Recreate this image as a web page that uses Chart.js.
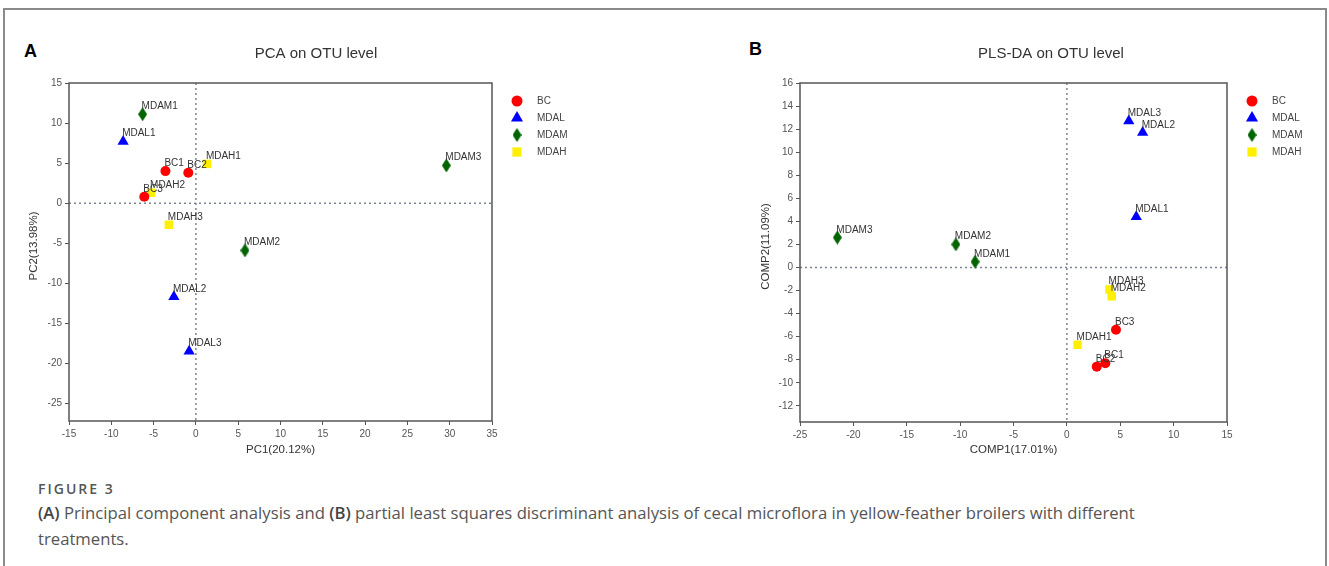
<!DOCTYPE html>
<html>
<head>
<meta charset="utf-8">
<script src="https://cdn.jsdelivr.net/npm/chart.js@4.4.0/dist/chart.umd.min.js"></script>
<style>
    html, body { margin: 0; padding: 0; background: #fff; }
    body { width: 1329px; height: 566px; position: relative; overflow: hidden; font-family: Arial, "Liberation Sans", sans-serif; }
    .frame { position: absolute; left: 3px; top: 8px; width: 1324px; height: 620px; border: 2px solid #8a8a8a; border-bottom: none; box-sizing: border-box; }
    .letter { position: absolute; font: bold 18px Arial, "Liberation Sans", sans-serif; line-height: 18px; color: #000; }
    #wrapA { position: absolute; left: 0; top: 0; width: 600px; height: 470px; }
    #wrapB { position: absolute; left: 700px; top: 0; width: 629px; height: 470px; }
    .fig { position: absolute; left: 38px; top: 480px; font: 600 14px "Open Sans", sans-serif; line-height: 18px; color: #555; letter-spacing: 2px; }
    .caption { position: absolute; left: 38px; top: 500px; font: 16.7px "Open Sans", sans-serif; line-height: 26px; color: #555; white-space: nowrap; }
    .caption b { font-weight: 600; color: #444; }
</style>
</head>
<body>
<div class="frame"></div>
<div class="letter" style="left:24px; top:42px;">A</div>
<div class="letter" style="left:749px; top:40px;">B</div>
<div id="wrapA"><canvas id="chartPCA" width="600" height="470"></canvas></div>
<div id="wrapB"><canvas id="chartPLS" width="629" height="470"></canvas></div>
<div class="fig">FIGURE 3</div>
<div class="caption"><b>(A)</b> Principal component analysis and <b>(B)</b> partial least squares discriminant analysis of cecal microflora in yellow-feather broilers with different<br>treatments.</div>

<script>
// groups
const groupNames = ['BC', 'MDAL', 'MDAM', 'MDAH'];
const groupColors = ['#ff0000', '#0000ff', '#006400', '#fff000'];

// PCA scores [PC1, PC2], samples 1..3 of each group
const pcaBC = [[-3.6, 4.0], [-0.9, 3.8], [-6.1, 0.8]];
const pcaMDAL = [[-8.6, 7.7], [-2.6, -11.7], [-0.8, -18.5]];
const pcaMDAM = [[-6.3, 11.1], [5.8, -5.9], [29.6, 4.7]];
const pcaMDAH = [[1.3, 4.9], [-5.3, 1.3], [-3.2, -2.7]];
const pcaXTicks = [-15, -10, -5, 0, 5, 10, 15, 20, 25, 30, 35];
const pcaYTicks = [-25, -20, -15, -10, -5, 0, 5, 10, 15];

// PLS-DA scores [COMP1, COMP2]
const plsBC = [[3.6, -8.3], [2.8, -8.6], [4.6, -5.4]];
const plsMDAL = [[6.5, 4.4], [7.1, 11.7], [5.8, 12.7]];
const plsMDAM = [[-8.6, 0.5], [-10.4, 2.0], [-21.5, 2.6]];
const plsMDAH = [[1.0, -6.7], [4.2, -2.5], [4.0, -1.9]];
const plsXTicks = [-25, -20, -15, -10, -5, 0, 5, 10, 15];
const plsYTicks = [-12, -10, -8, -6, -4, -2, 0, 2, 4, 6, 8, 10, 12, 14, 16];

const FONT = 'Arial, "Liberation Sans", sans-serif';

// tall diamond used for MDAM
function makeDiamond(w, h, color) {
    const c = document.createElement('canvas');
    c.width = w; c.height = h;
    const g = c.getContext('2d');
    g.fillStyle = color;
    g.beginPath();
    g.moveTo(w / 2, 0); g.lineTo(w, h / 2); g.lineTo(w / 2, h); g.lineTo(0, h / 2);
    g.closePath(); g.fill();
    return c;
}
const diamond = makeDiamond(9, 14, groupColors[2]);
const pointStyles = ['circle', 'triangle', diamond, 'rect'];
const pointRadius = [5, 6.5, 7, 6];
const legendRadius = [5.5, 7, 7, 6.5];

function buildDatasets(groups) {
    return groups.map(function (pts, i) {
        return {
            label: groupNames[i],
            names: pts.map(function (p, j) { return groupNames[i] + (j + 1); }),
            data: pts.map(function (p) { return { x: p[0], y: p[1] }; }),
            backgroundColor: groupColors[i],
            borderWidth: 0,
            pointStyle: pointStyles[i],
            pointRadius: pointRadius[i],
            pointHoverRadius: pointRadius[i]
        };
    });
}

function decor(p) {
    return {
        id: 'decor',
        beforeDatasetsDraw(chart) {
            const ctx = chart.ctx, a = chart.chartArea;
            const x0 = chart.scales.x.getPixelForValue(0);
            const y0 = chart.scales.y.getPixelForValue(0);
            ctx.save();
            ctx.strokeStyle = '#7b8494';
            ctx.lineWidth = 1.5;
            ctx.setLineDash([2, 3]);
            ctx.beginPath();
            ctx.moveTo(x0, a.top); ctx.lineTo(x0, a.bottom);
            ctx.moveTo(a.left, y0); ctx.lineTo(a.right, y0);
            ctx.stroke();
            ctx.setLineDash([]);
            ctx.strokeStyle = '#555';
            ctx.lineWidth = 1.5;
            ctx.strokeRect(a.left, a.top, a.right - a.left, a.bottom - a.top);
            ctx.restore();
        },
        afterDatasetsDraw(chart) {
            const ctx = chart.ctx, a = chart.chartArea;
            ctx.save();
            // point labels
            ctx.font = '10px ' + FONT;
            ctx.fillStyle = '#333';
            ctx.textAlign = 'left';
            ctx.textBaseline = 'alphabetic';
            chart.data.datasets.forEach(function (ds, i) {
                chart.getDatasetMeta(i).data.forEach(function (pt, j) {
                    ctx.fillText(ds.names[j], pt.x - 1, pt.y - 5);
                });
            });
            // legend
            chart.data.datasets.forEach(function (ds, i) {
                const ly = p.legendY + i * 17;
                ctx.fillStyle = ds.backgroundColor;
                Chart.helpers.drawPoint(ctx, { pointStyle: ds.pointStyle, radius: legendRadius[i], rotation: 0, borderWidth: 0 }, p.legendX, ly);
                ctx.fillStyle = '#444';
                ctx.textBaseline = 'middle';
                ctx.fillText(ds.label, p.legendX + 20, ly);
            });
            // titles
            ctx.fillStyle = '#333';
            ctx.textAlign = 'center';
            ctx.textBaseline = 'middle';
            ctx.font = '15px ' + FONT;
            ctx.fillText(p.title, p.titleX, 54);
            ctx.font = '11.5px ' + FONT;
            ctx.fillText(p.xTitle, (a.left + a.right) / 2, 450);
            ctx.translate(p.yTitleX, (a.top + a.bottom) / 2 - 6);
            ctx.rotate(-Math.PI / 2);
            ctx.fillText(p.yTitle, 0, 0);
            ctx.restore();
        }
    };
}

function makePanel(id, datasets, p) {
    const tickFont = { family: FONT, size: 10 };
    new Chart(document.getElementById(id).getContext('2d'), {
        type: 'scatter',
        data: { datasets: datasets },
        options: {
            responsive: false,
            animation: false,
            layout: { padding: { top: 83, left: p.padLeft, right: p.padRight, bottom: 0 } },
            plugins: { legend: { display: false }, tooltip: { enabled: false } },
            scales: {
                x: {
                    type: 'linear', min: p.xMin, max: p.xMax,
                    afterBuildTicks: function (s) { s.ticks = p.xTicks.map(function (v) { return { value: v }; }); },
                    afterFit: function (s) { s.height = p.xHeight; },
                    ticks: { font: tickFont, color: '#555', padding: 3, maxRotation: 0 },
                    grid: { drawOnChartArea: false, drawTicks: true, tickLength: 4, color: '#555' },
                    border: { display: false }
                },
                y: {
                    type: 'linear', min: p.yMin, max: p.yMax,
                    afterBuildTicks: function (s) { s.ticks = p.yTicks.map(function (v) { return { value: v }; }); },
                    afterFit: function (s) { s.width = 69; },
                    ticks: { font: tickFont, color: '#555', padding: 3 },
                    grid: { drawOnChartArea: false, drawTicks: true, tickLength: 4, color: '#555' },
                    border: { display: false }
                }
            }
        },
        plugins: [decor(p)]
    });
}

makePanel('chartPCA', buildDatasets([pcaBC, pcaMDAL, pcaMDAM, pcaMDAH]), {
    xMin: -15, xMax: 35, yMin: -27.2, yMax: 15,
    xTicks: pcaXTicks, yTicks: pcaYTicks,
    padLeft: 0, padRight: 108, xHeight: 49,
    title: 'PCA on OTU level', titleX: 316,
    xTitle: 'PC1(20.12%)', yTitle: 'PC2(13.98%)', yTitleX: 34,
    legendX: 517, legendY: 101
});

makePanel('chartPLS', buildDatasets([plsBC, plsMDAL, plsMDAM, plsMDAH]), {
    xMin: -25, xMax: 15, yMin: -13.4, yMax: 16,
    xTicks: plsXTicks, yTicks: plsYTicks,
    padLeft: 31, padRight: 102, xHeight: 48,
    title: 'PLS-DA on OTU level', titleX: 351,
    xTitle: 'COMP1(17.01%)', yTitle: 'COMP2(11.09%)', yTitleX: 66,
    legendX: 552, legendY: 101
});
</script>
</body>
</html>
